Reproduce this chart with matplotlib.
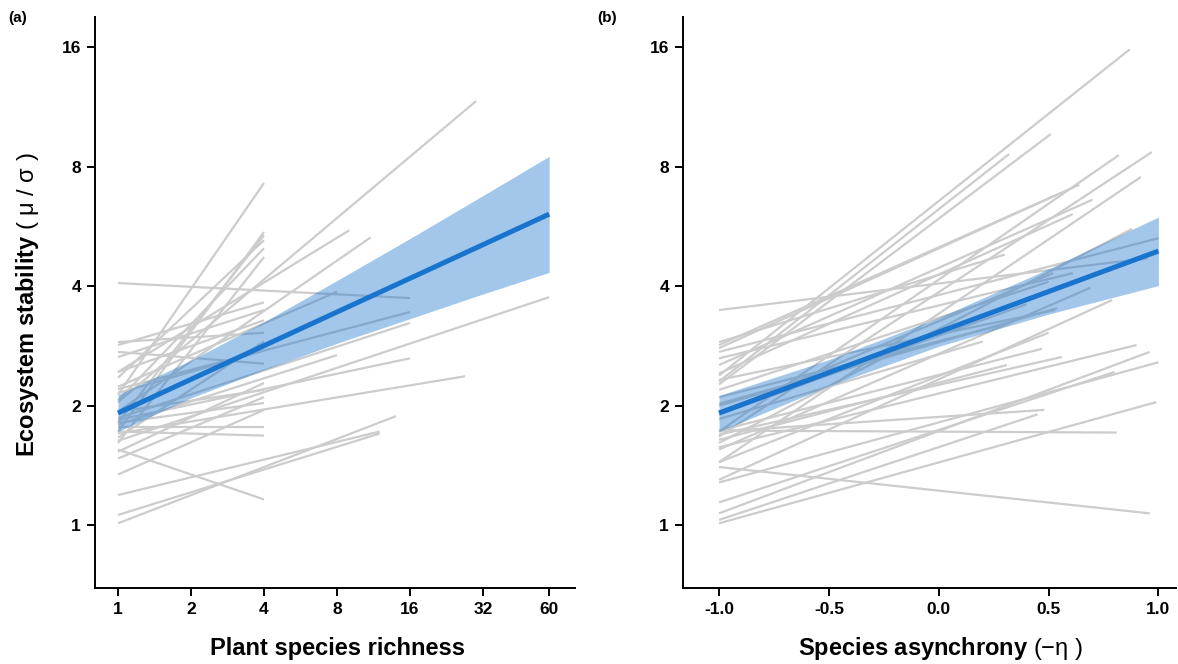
import matplotlib
matplotlib.use("Agg")
import matplotlib.pyplot as plt
from matplotlib.ticker import FixedLocator, FixedFormatter, NullLocator

plt.rcParams['font.family'] = ['Liberation Sans', 'DejaVu Sans']
plt.rcParams['mathtext.fontset'] = 'custom'
plt.rcParams['mathtext.rm'] = 'Liberation Sans'
plt.rcParams['mathtext.it'] = 'Liberation Sans'
plt.rcParams['mathtext.default'] = 'rm'

# ---------------- data: panel (a) richness ----------------
rich_x_start = [1] * 35
rich_x_end = [4, 4, 4, 4, 4, 4, 4, 4, 4, 4, 4, 4, 4, 4, 4, 4, 4, 4, 4, 4, 4,
              16, 30, 60, 16, 16, 16, 27, 14, 12, 12, 8, 8, 9, 11]
rich_y_start = [2.13, 1.72, 1.81, 2.35, 2.06, 1.61, 2.84, 2.65, 2.43, 2.89, 1.66,
                2.73, 1.53, 1.93, 1.47, 1.81, 1.34, 1.77, 1.72, 1.55, 2.15,
                4.07, 2.04, 1.63, 2.20, 1.86, 1.84, 1.70, 1.01, 1.19, 1.06,
                1.79, 2.23, 2.43, 1.93]
rich_y_end = [7.27, 5.47, 5.37, 5.22, 4.98, 4.73, 3.64, 3.48, 3.28, 3.05, 2.90,
              2.55, 2.28, 2.19, 2.10, 2.03, 1.95, 1.77, 1.68, 1.16, 2.75,
              3.73, 11.7, 3.75, 3.44, 3.23, 2.63, 2.37, 1.88, 1.72, 1.70,
              2.68, 3.87, 5.53, 5.30]

rich_fit_x = [1, 60]
rich_fit_y = [1.915, 6.07]
rich_band_x = [1, 2, 4, 8, 16, 32, 60]
rich_band_lo = [1.72, 2.09, 2.46, 2.87, 3.31, 3.82, 4.33]
rich_band_hi = [2.13, 2.60, 3.25, 4.13, 5.27, 6.76, 8.49]

rich_ticks = [1, 2, 4, 8, 16, 32, 60]
rich_tick_labels = ["1", "2", "4", "8", "16", "32", "60"]

# ---------------- data: panel (b) asynchrony ----------------
asyn_x_end = [0.87, 0.51, 0.32, 0.82, 0.97, 0.92, 0.64, 0.54, 0.70, 0.61, 1.00,
              0.88, 0.61, 0.52, 0.69, 0.95, 0.54, 0.79, 0.50, 0.53, 0.90, 0.96,
              1.00, 0.56, 0.47, 0.31, 0.48, 0.81, 0.99, 0.96, 0.40, 0.30, 0.50,
              0.20, 0.30, 0.80, 0.10, 0.45]
asyn_x_start = [-1.0] * 38
asyn_y_start = [2.38, 2.26, 2.30, 1.72, 1.67, 1.44, 2.84, 2.79, 2.53, 2.41, 2.73,
                1.61, 2.63, 1.91, 1.55, 3.48, 2.00, 1.30, 1.44, 2.32, 1.57, 1.07,
                1.28, 1.69, 1.73, 1.64, 1.72, 1.73, 1.01, 1.40, 1.90, 2.10, 2.19,
                1.85, 2.89, 1.14, 2.02, 1.03]
asyn_y_end = [15.8, 9.66, 8.6, 8.55, 8.70, 7.53, 7.2, 6.8, 6.6, 6.07, 5.28,
              5.57, 4.31, 4.31, 3.96, 4.70, 3.52, 3.69, 3.05, 3.48, 2.84, 2.73,
              2.57, 2.65, 2.78, 2.53, 1.95, 1.71, 2.04, 1.07, 3.60, 3.20, 4.10,
              2.90, 4.80, 2.43, 3.00, 1.90]

asyn_fit_x = [-1.0, 1.0]
asyn_fit_y = [1.915, 4.90]
asyn_band_x = [-1.0, -0.5, 0.0, 0.5, 1.0]
asyn_band_lo = [1.72, 2.24, 2.82, 3.40, 4.01]
asyn_band_hi = [2.12, 2.61, 3.33, 4.42, 5.97]

asyn_ticks = [-1.0, -0.5, 0.0, 0.5, 1.0]
asyn_tick_labels = ["-1.0", "-0.5", "0.0", "0.5", "1.0"]

y_ticks = [1, 2, 4, 8, 16]
y_tick_labels = ["1", "2", "4", "8", "16"]

# ---------------- styles ----------------
GREY = "#cccccc"
BLUE = "#1874CD"
W, H = 1178, 664
fig = plt.figure(figsize=(W / 100, H / 100), dpi=100)

ax1 = fig.add_axes([95 / W, 1 - 588 / H, (575 - 95) / W, (588 - 17) / H])
ax2 = fig.add_axes([683 / W, 1 - 588 / H, (1176 - 683) / W, (588 - 17) / H])


def style(ax):
    for s in ("top", "right"):
        ax.spines[s].set_visible(False)
    for s in ("left", "bottom"):
        ax.spines[s].set_linewidth(1.4)
    ax.tick_params(axis="both", which="major", direction="out", length=6,
                   width=1.4, labelsize=12.5, pad=4, colors="black")
    ax.set_yscale("log", base=2)
    ax.yaxis.set_major_locator(FixedLocator(y_ticks))
    ax.yaxis.set_major_formatter(FixedFormatter(y_tick_labels))
    ax.yaxis.set_minor_locator(NullLocator())
    ax.xaxis.set_minor_locator(NullLocator())
    ax.set_ylim(0.694, 19.05)
    for lab in ax.get_xticklabels() + ax.get_yticklabels():
        lab.set_fontweight("bold")


# panel a
for x0, x1, y0, y1 in zip(rich_x_start, rich_x_end, rich_y_start, rich_y_end):
    ax1.plot([x0, x1], [y0, y1], color=GREY, lw=1.6, solid_capstyle="butt", zorder=1)
ax1.fill_between(rich_band_x, rich_band_lo, rich_band_hi, color=BLUE, alpha=0.4,
                 lw=0, zorder=2)
ax1.plot(rich_fit_x, rich_fit_y, color=BLUE, lw=3.6, zorder=3, solid_capstyle="butt")
ax1.set_xscale("log", base=2)
ax1.set_xlim(0.804, 76.7)
ax1.xaxis.set_major_locator(FixedLocator(rich_ticks))
ax1.xaxis.set_major_formatter(FixedFormatter(rich_tick_labels))
style(ax1)

# panel b
for x0, x1, y0, y1 in zip(asyn_x_start, asyn_x_end, asyn_y_start, asyn_y_end):
    ax2.plot([x0, x1], [y0, y1], color=GREY, lw=1.6, solid_capstyle="butt", zorder=1)
ax2.fill_between(asyn_band_x, asyn_band_lo, asyn_band_hi, color=BLUE, alpha=0.4,
                 lw=0, zorder=2)
ax2.plot(asyn_fit_x, asyn_fit_y, color=BLUE, lw=3.6, zorder=3, solid_capstyle="butt")
ax2.set_xlim(-1.164, 1.08)
ax2.xaxis.set_major_locator(FixedLocator(asyn_ticks))
ax2.xaxis.set_major_formatter(FixedFormatter(asyn_tick_labels))
style(ax2)

# labels
fig.text(337 / W, 1 - 648 / H, "Plant species richness", ha="center", va="center",
         fontsize=17, fontweight="bold")
fig.text(940 / W, 1 - 648 / H, r"Species asynchrony $(-\mathrm{\eta}\ )$", ha="center",
         va="center", fontsize=17, fontweight="bold")
fig.text(28 / W, 1 - 305 / H, r"Ecosystem stability $(\ \mathrm{\mu}\ /\ \mathrm{\sigma}\ )$",
         ha="center", va="center", rotation=90, fontsize=17, fontweight="bold")
fig.text(8 / W, 1 - 18 / H, "(a)", ha="left", va="center", fontsize=11,
         fontweight="bold")
fig.text(597 / W, 1 - 18 / H, "(b)", ha="left", va="center", fontsize=11,
         fontweight="bold")

fig.savefig("out.png", dpi=100)
